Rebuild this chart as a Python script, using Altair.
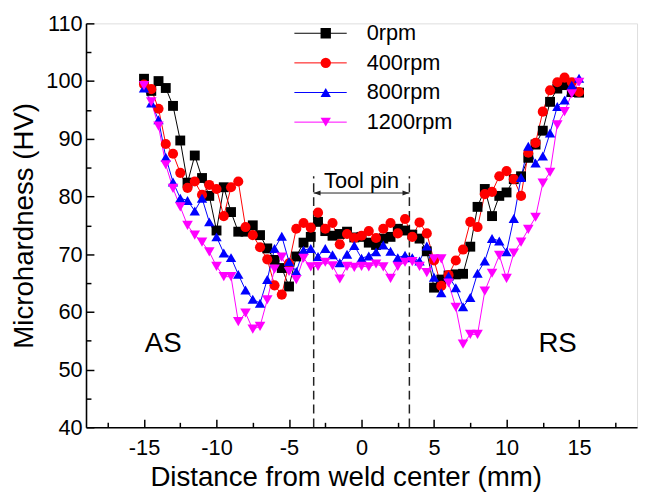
import altair as alt
import pandas as pd

FONT = "Liberation Sans"

series = ["0rpm", "400rpm", "800rpm", "1200rpm"]
colors = ["#000000", "#FF0000", "#0000FF", "#FF00FF"]
shapes = ["square", "circle", "triangle-up", "triangle-down"]
sizes = [100, 115, 140, 140]

distance = [-15.0, -14.5, -14.0, -13.5, -13.0, -12.5, -12.0, -11.5, -11.0, -10.5,
            -10.0, -9.5, -9.0, -8.5, -8.0, -7.5, -7.0, -6.5, -6.0, -5.5,
            -5.0, -4.5, -4.0, -3.5, -3.0, -2.5, -2.0, -1.5, -1.0, -0.5,
            0.0, 0.5, 1.0, 1.5, 2.0, 2.5, 3.0, 3.5, 4.0, 4.5,
            5.0, 5.5, 6.0, 6.5, 7.0, 7.5, 8.0, 8.5, 9.0, 9.5,
            10.0, 10.5, 11.0, 11.5, 12.0, 12.5, 13.0, 13.5, 14.0, 14.5,
            15.0]

hv_0 = [100.4, 98.3, 100.0, 98.8, 95.7, 89.7, 82.4, 87.1, 83.2, 80.1,
        74.1, 81.6, 77.3, 73.9, 73.9, 75.0, 73.3, 71.0, 69.0, 67.6,
        64.4, 69.6, 72.0, 73.0, 75.6, 74.0, 73.2, 73.5, 73.9, 72.9,
        73.0, 72.0, 71.6, 72.7, 73.0, 74.4, 74.1, 73.4, 72.7, 70.5,
        64.2, 65.6, 66.3, 66.5, 66.6, 71.3, 78.2, 81.3, 76.6, 80.1,
        80.7, 83.0, 83.5, 86.7, 89.0, 91.4, 96.4, 98.7, 99.3, 98.1,
        98.0]

hv_400 = [99.4, 98.6, 95.2, 89.1, 87.4, 84.1, 81.5, 82.6, 80.3, 82.0,
          81.3, 76.6, 81.6, 82.6, 74.7, 73.3, 71.2, 69.1, 64.6, 63.0,
          68.4, 74.4, 75.4, 74.6, 77.2, 74.4, 75.4, 71.7, 73.5, 72.8,
          73.2, 74.0, 72.8, 74.4, 75.4, 73.6, 76.1, 73.0, 75.5, 73.6,
          68.9, 64.5, 66.4, 68.9, 70.8, 75.6, 74.7, 80.4, 80.8, 83.5,
          84.4, 83.0, 80.1, 87.6, 89.3, 94.7, 98.4, 99.8, 100.6, 99.8,
          98.1]

hv_800 = [98.8, 96.2, 93.3, 86.8, 82.5, 79.7, 79.3, 77.5, 79.7, 75.6,
          73.0, 70.2, 69.4, 66.5, 63.8, 62.2, 61.5, 65.6, 71.0, 73.1,
          68.7, 67.0, 70.7, 71.0, 69.6, 71.0, 69.9, 68.5, 70.0, 71.5,
          69.3, 69.7, 70.4, 71.6, 70.5, 69.4, 69.8, 69.4, 68.8, 71.4,
          66.0, 63.3, 66.2, 64.2, 60.9, 62.5, 66.7, 68.8, 72.7, 72.3,
          70.4, 76.2, 83.3, 88.7, 85.8, 87.0, 91.0, 95.6, 96.7, 99.3,
          100.5]

hv_1200 = [99.2, 96.4, 92.2, 85.5, 81.4, 78.2, 75.0, 73.3, 72.1, 70.4,
           67.9, 66.1, 66.1, 58.3, 59.8, 57.0, 57.5, 62.1, 67.4, 69.5,
           67.0, 65.6, 69.3, 67.8, 67.9, 68.6, 68.0, 65.7, 67.9, 67.7,
           67.9, 67.8, 68.3, 67.8, 65.8, 67.9, 68.6, 68.7, 67.9, 66.8,
           69.2, 69.2, 65.0, 60.8, 54.4, 56.1, 56.1, 63.6, 66.7, 69.8,
           65.8, 70.2, 72.1, 74.3, 76.4, 82.3, 84.2, 92.4, 94.7, 97.8,
           99.8]

x_major = [-15, -10, -5, 0, 5, 10, 15]
x_minor = [-17.5, -12.5, -7.5, -2.5, 2.5, 7.5, 12.5, 17.5]
y_major = [40, 50, 60, 70, 80, 90, 100, 110]
y_minor = [45, 55, 65, 75, 85, 95, 105]

pin_edges = [-3.3, 3.3]
pin_top = 83.5
pin_arrow_y = 80.6
pin_label = "Tool pin"
pin_label_y = 81.4

side_labels = ["AS", "RS"]
side_x = [-13.67, 13.52]
side_y = [53.0, 53.0]

rows = []
for name, vals in zip(series, [hv_0, hv_400, hv_800, hv_1200]):
    for d, v in zip(distance, vals):
        rows.append({"series": name, "distance": d, "hv": v})
df = pd.DataFrame(rows)

pin_df = pd.DataFrame({"x": pin_edges, "y": [40, 40], "y2": [pin_top, pin_top]})
arrow_df = pd.DataFrame({"x": [pin_edges[0]], "x2": [pin_edges[1]], "y": [pin_arrow_y]})
left_head = pd.DataFrame({"x": [pin_edges[0]], "y": [pin_arrow_y]})
right_head = pd.DataFrame({"x": [pin_edges[1]], "y": [pin_arrow_y]})
pin_text_df = pd.DataFrame({"x": [0.0], "y": [pin_label_y], "t": [pin_label]})
side_df = pd.DataFrame({"x": side_x, "y": side_y, "t": side_labels})

W, H = 558, 409

xs = alt.Scale(domain=[-19, 19], nice=False, zero=False)
ys = alt.Scale(domain=[40, 110], nice=False, zero=False)
cs = alt.Scale(domain=series, range=colors)
ss = alt.Scale(domain=series, range=shapes)
zs = alt.Scale(domain=series, range=sizes)

common_axis = dict(grid=False, labelFont=FONT, titleFont=FONT, labelColor="black",
                   titleColor="black", domainColor="black", tickColor="black")

x_axis_main = alt.Axis(values=x_major, ticks=False, tickSize=0, labelPadding=11,
                       labelFontSize=22, labelFlush=False, domainWidth=1.6,
                       labelExpr="toString(datum.value)",
                       title="Distance from weld center (mm)", titleFontSize=28,
                       titleFontWeight="normal", titlePadding=5, titleX=263,
                       **common_axis)
y_axis_main = alt.Axis(values=y_major, ticks=False, tickSize=0, labelPadding=4,
                       labelFontSize=22, labelFlush=False, domainWidth=1.6,
                       title="Microhardness (HV)", titleFontSize=28,
                       titleFontWeight="normal", titlePadding=7,
                       **common_axis)
x_axis_ticks = alt.Axis(orient="top", offset=-H, values=x_major, labels=False,
                        domain=False, tickSize=8, tickWidth=1.5, title=None, **common_axis)
y_axis_ticks = alt.Axis(orient="right", offset=-W, values=y_major, labels=False,
                        domain=False, tickSize=8, tickWidth=1.5, title=None, **common_axis)
x_axis_minor = alt.Axis(orient="top", offset=-H, values=x_minor, labels=False,
                        domain=False, tickSize=5, tickWidth=1.5, title=None, **common_axis)
y_axis_minor = alt.Axis(orient="right", offset=-W, values=y_minor, labels=False,
                        domain=False, tickSize=5, tickWidth=1.5, title=None, **common_axis)

line_legend = alt.Legend(title=None, orient="none", legendX=210.5, legendY=-5,
                         symbolType="stroke", symbolSize=2809, symbolStrokeWidth=1,
                         labelExpr="''", clipHeight=30, rowPadding=0, padding=0,
                         labelFontSize=22, labelFont=FONT)
point_legend = alt.Legend(title=None, orient="none", legendX=231.75, legendY=-5,
                          symbolSize=110, clipHeight=30, rowPadding=0, padding=0,
                          labelFontSize=22, labelFont=FONT, labelColor="black",
                          labelOffset=30.5, symbolOpacity=1)

lines = alt.Chart(df).mark_line(strokeWidth=1).encode(
    x=alt.X("distance:Q", scale=xs, axis=x_axis_main),
    y=alt.Y("hv:Q", scale=ys, axis=y_axis_main),
    color=alt.Color("series:N", scale=cs, sort=series, legend=line_legend),
    order=alt.Order("distance:Q"),
)

points = alt.Chart(df).mark_point(filled=True, opacity=1, strokeWidth=0).encode(
    x=alt.X("distance:Q", scale=xs, axis=x_axis_ticks),
    y=alt.Y("hv:Q", scale=ys, axis=y_axis_ticks),
    color=alt.Color("series:N", scale=cs, sort=series, legend=point_legend),
    shape=alt.Shape("series:N", scale=ss, sort=series, legend=point_legend),
    size=alt.Size("series:N", scale=zs, sort=series, legend=None),
)

pins = alt.Chart(pin_df).mark_rule(strokeDash=[9, 5], strokeWidth=1.5, color="#222222").encode(
    x=alt.X("x:Q", scale=xs, axis=x_axis_minor),
    y=alt.Y("y:Q", scale=ys, axis=y_axis_minor),
    y2="y2:Q",
)

arrow = alt.Chart(arrow_df).mark_rule(strokeWidth=1, color="#222222").encode(
    x=alt.X("x:Q", scale=xs, axis=None),
    x2="x2:Q",
    y=alt.Y("y:Q", scale=ys, axis=None),
)

lh = alt.Chart(left_head).mark_point(shape="M-1,0L1,-0.7L1,0.7Z", filled=True, size=49,
                                     opacity=1, color="#222222", xOffset=3.5).encode(
    x=alt.X("x:Q", scale=xs, axis=None),
    y=alt.Y("y:Q", scale=ys, axis=None),
)
rh = alt.Chart(right_head).mark_point(shape="M1,0L-1,-0.7L-1,0.7Z", filled=True, size=49,
                                      opacity=1, color="#222222", xOffset=-3.5).encode(
    x=alt.X("x:Q", scale=xs, axis=None),
    y=alt.Y("y:Q", scale=ys, axis=None),
)

pin_text = alt.Chart(pin_text_df).mark_text(fontSize=22, font=FONT, baseline="alphabetic",
                                            align="center", color="black").encode(
    x=alt.X("x:Q", scale=xs, axis=None),
    y=alt.Y("y:Q", scale=ys, axis=None),
    text="t:N",
)

side_text = alt.Chart(side_df).mark_text(fontSize=28, font=FONT, baseline="alphabetic",
                                         align="center", color="black").encode(
    x=alt.X("x:Q", scale=xs, axis=None),
    y=alt.Y("y:Q", scale=ys, axis=None),
    text="t:N",
)

chart = alt.layer(
    pins, arrow, lh, rh, pin_text, side_text, lines, points
).resolve_scale(
    color="shared", shape="shared"
).resolve_legend(
    color="independent", shape="independent"
).resolve_axis(
    x="independent", y="independent"
).properties(
    width=W, height=H,
    autosize=alt.AutoSizeParams(type="none"),
    padding={"left": 79, "top": 12.5, "right": 4, "bottom": 65},
).configure_view(
    stroke="black", strokeWidth=1.6
).configure(
    background="white"
)

chart.save("out.html", embed_options={"renderer": "svg", "actions": False})
